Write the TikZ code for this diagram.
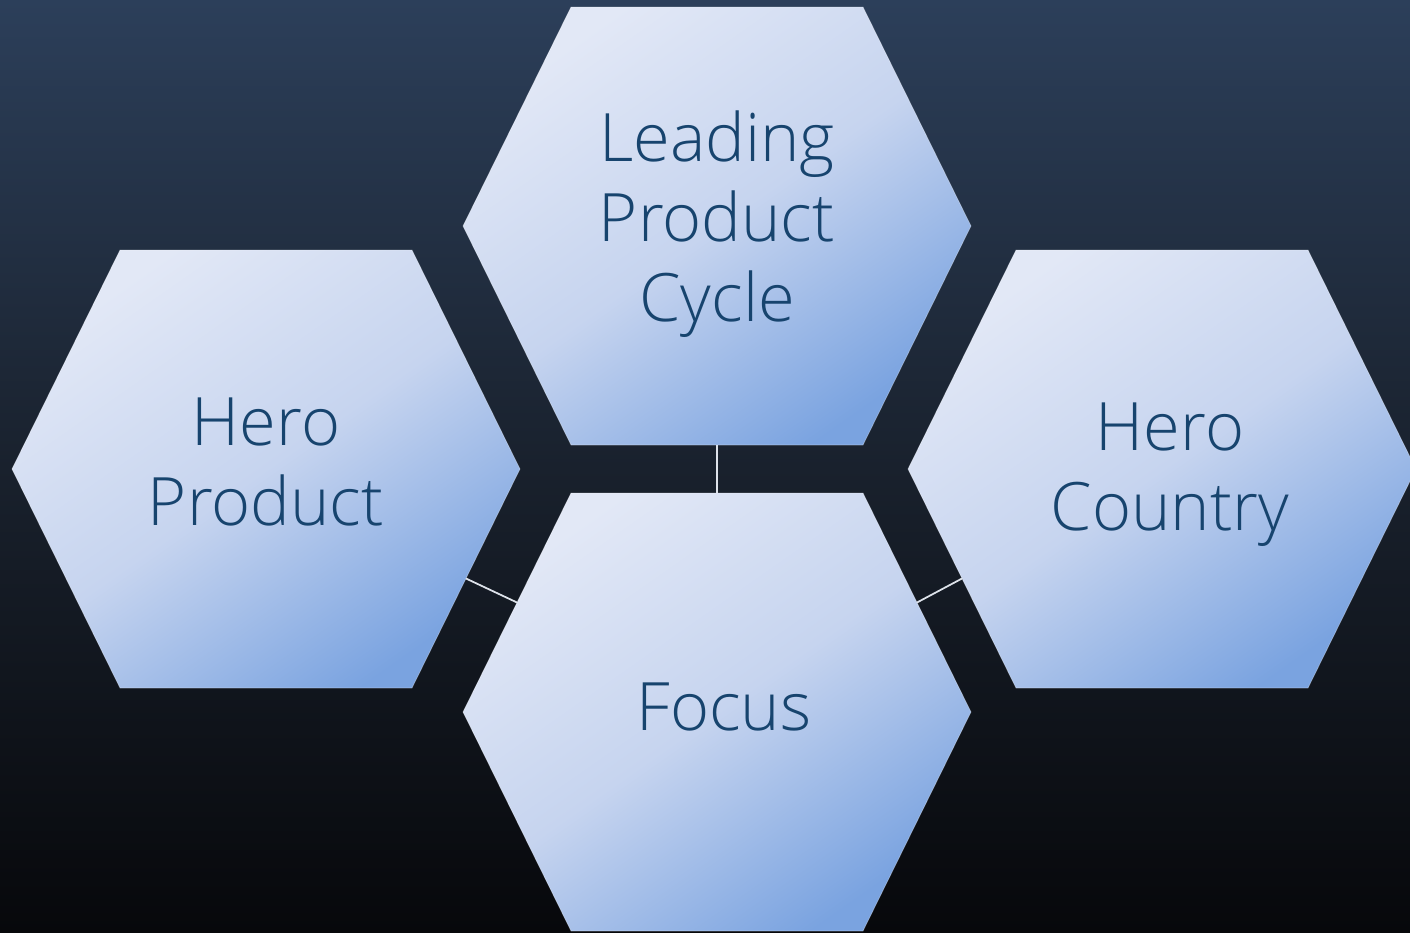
\documentclass[tikz,border=0pt]{standalone}
\usepackage{fontspec}
\setmainfont{Open Sans Light}
\usepackage{tikz}

\definecolor{bgtop}{HTML}{2C3F5A}
\definecolor{bgmid}{HTML}{19212D}
\definecolor{bgbot}{HTML}{07080B}
\definecolor{hexlight}{HTML}{E2E8F6}
\definecolor{hexmid}{HTML}{C6D4EF}
\definecolor{hexdark}{HTML}{7AA3E0}
\definecolor{hextext}{HTML}{17446E}
\definecolor{linkwhite}{HTML}{DDE2EA}

\begin{document}
\begin{tikzpicture}[x=0.02cm,y=-0.02cm,
	hexcell/.style={top color=hexlight,bottom color=hexdark,middle color=hexmid,
		shading angle=35,draw=white,draw opacity=0.3,line width=0.4pt},
	hexlabel/.style={text=hextext,align=center,
		font=\fontsize{38}{45.5}\selectfont},
	link/.style={draw=linkwhite,line width=1pt}]
	
	\useasboundingbox (0,0) rectangle (1410,933);
	\clip (0,0) rectangle (1410,933);
	\shade[top color=bgtop,bottom color=bgbot,middle color=bgmid] (0,0) rectangle (1410,933);
	
	% hexagons: name / centre / label offset / label
	\foreach \n/\x/\y/\dx/\dy/\t in {lpc/717/226/0/-2/{Leading\\Product\\Cycle},
		hp/266/469/0/-7/{Hero\\Product},
		hc/1162/469/8/6/{Hero\\Country},
		fo/717/712/7/-5/{Focus}}
	{
		\path[hexcell] (\x-146,\y-219) -- (\x+146,\y-219) -- (\x+254,\y)
			-- (\x+146,\y+219) -- (\x-146,\y+219) -- (\x-254,\y) -- cycle;
		\node[hexlabel] (\n) at (\x+\dx,\y+\dy) {\t};
		\coordinate (\n-n)  at (\x,\y-219);
		\coordinate (\n-s)  at (\x,\y+219);
		\coordinate (\n-nw) at (\x-200,\y-109.5);
		\coordinate (\n-ne) at (\x+200,\y-109.5);
		\coordinate (\n-sw) at (\x-200,\y+109.5);
		\coordinate (\n-se) at (\x+200,\y+109.5);
	}
	
	\draw[link] (lpc-s) -- (fo-n);
	\draw[link] (hp-se) -- (fo-nw);
	\draw[link] (hc-sw) -- (fo-ne);
	
\end{tikzpicture}
\end{document}
